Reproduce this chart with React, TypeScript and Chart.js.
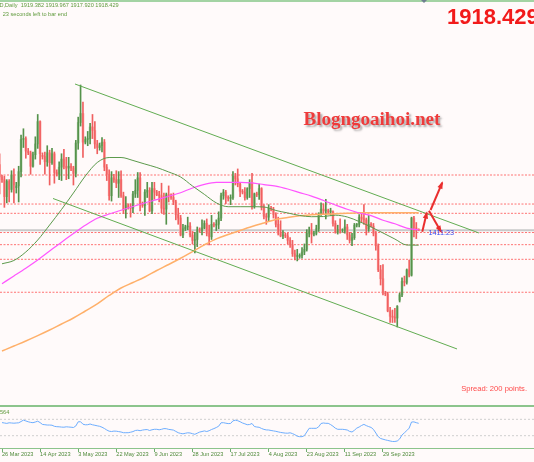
import React, { useEffect, useRef } from "react";
import { Chart, registerables } from "chart.js";

Chart.register(...registerables);

// ---------------- data ----------------
// daily bars, bar index -1 .. 175 (bar 0 = 26 Mar 2023, Sunday bars included)
const firstBarIndex = -1;
const opens = [1992,1978,1975,1956,1973,1964,1980,1966,1968,1984,2020,2021,2007,2005,1990,2003,2015,2040,2002,2001,1995,2005,1994,2004,1983,1981,1989,1998,1990,1988,1990,1988,1982,2016,2039,2049,2017,2020,2021,2034,2030,2015,2011,2013,2017,1989,1981,1957,1977,1975,1971,1975,1957,1941,1946,1944,1943,1959,1963,1977,1948,1946,1961,1963,1940,1965,1961,1958,1957,1943,1942,1958,1957,1955,1950,1936,1932,1913,1920,1922,1923,1913,1907,1908,1919,1918,1921,1926,1915,1911,1925,1924,1925,1932,1957,1961,1955,1954,1955,1979,1976,1970,1962,1961,1955,1965,1972,1945,1959,1958,1965,1944,1934,1933,1943,1942,1936,1925,1915,1912,1913,1912,1907,1902,1892,1889,1889,1890,1894,1897,1915,1917,1914,1915,1920,1937,1942,1940,1940,1939,1939,1926,1916,1919,1918,1919,1922,1913,1907,1910,1924,1925,1933,1931,1930,1920,1925,1923,1915,1901,1874,1864,1848,1847,1828,1822,1821,1820,1840,1846,1861,1860,1874,1868,1932,1921,1919.382];
const highs = [2004,1980,1979,1975,1975,1985,1987,1972,1990,2025,2032,2023,2010,2007,2006,2023,2048,2041,2005,2006,2013,2008,2010,2006,1986,1995,2004,2009,2000,2000,1993,1990,2019,2045,2081,2062,2023,2029,2038,2048,2040,2019,2016,2022,2020,1992,1986,1984,1981,1985,1984,1985,1961,1956,1948,1948,1962,1975,1983,1983,1950,1964,1972,1966,1972,1972,1963,1962,1971,1960,1960,1968,1959,1960,1952,1943,1935,1925,1924,1933,1927,1917,1916,1922,1921,1930,1929,1931,1924,1935,1927,1930,1939,1960,1964,1963,1957,1958,1984,1982,1987,1971,1964,1966,1966,1975,1982,1960,1961,1970,1966,1947,1937,1947,1945,1944,1938,1933,1929,1918,1915,1915,1910,1907,1896,1897,1892,1899,1903,1919,1922,1926,1917,1924,1938,1949,1948,1953,1942,1943,1940,1929,1924,1931,1920,1930,1925,1916,1915,1926,1926,1936,1937,1947,1932,1935,1927,1926,1917,1903,1879,1880,1850,1849,1832,1829,1831,1834,1848,1865,1867,1875,1885,1933,1934,1927,1919.967];
const lows = [1959,1972,1944,1949,1950,1961,1949,1960,1950,1978,2011,1999,2003,1981,1989,1998,2010,1992,1998,1981,1990,1969,1992,1971,1979,1975,1974,1987,1975,1976,1985,1969,1978,2009,2035,2000,2015,2013,2015,2021,2010,2004,2008,2006,1985,1974,1952,1951,1972,1966,1955,1955,1937,1932,1942,1933,1938,1955,1955,1940,1944,1935,1955,1939,1937,1953,1957,1950,1938,1936,1925,1950,1953,1947,1930,1925,1912,1910,1918,1919,1911,1903,1893,1900,1916,1913,1920,1912,1902,1908,1922,1918,1920,1929,1953,1948,1951,1947,1953,1969,1967,1956,1959,1952,1953,1955,1942,1943,1956,1953,1941,1931,1925,1928,1940,1932,1922,1913,1911,1909,1910,1903,1899,1889,1885,1884,1887,1887,1891,1895,1911,1904,1912,1913,1917,1935,1936,1931,1937,1935,1923,1915,1914,1915,1916,1915,1908,1904,1901,1908,1922,1922,1927,1925,1913,1917,1922,1912,1896,1872,1857,1846,1845,1827,1815,1815,1815,1810,1838,1844,1856,1858,1866,1867,1911,1909,1917.92];
const closes = [1978,1975,1956,1973,1964,1980,1969,1968,1984,2020,2021,2007,2005,1990,2003,2015,2040,2004,2001,1995,2005,1994,2004,1983,1981,1989,1998,1990,1988,1990,1988,1982,2016,2039,2049,2017,2020,2021,2034,2030,2015,2011,2013,2017,1989,1981,1957,1977,1975,1971,1975,1957,1941,1946,1944,1943,1959,1963,1977,1948,1946,1961,1963,1940,1965,1961,1958,1957,1943,1942,1958,1957,1955,1950,1936,1932,1913,1920,1922,1923,1913,1907,1908,1919,1918,1921,1926,1915,1911,1925,1924,1925,1932,1957,1961,1955,1954,1955,1979,1976,1970,1962,1961,1955,1965,1972,1945,1959,1958,1965,1944,1934,1933,1943,1942,1936,1925,1915,1912,1913,1912,1907,1902,1892,1889,1889,1890,1894,1897,1915,1917,1914,1915,1920,1937,1942,1940,1940,1939,1939,1926,1916,1919,1918,1919,1922,1913,1907,1910,1924,1925,1933,1931,1930,1920,1925,1923,1915,1901,1874,1864,1848,1847,1828,1822,1821,1820,1833,1846,1861,1860,1874,1868,1932,1921,1919.4,1918.429];

// moving averages sampled every 5 bars (bar 0, 5, 10 ... 175)
const maStep = 5;
const maGreen = [1880.8,1884.5,1894,1907.4,1924.2,1941.6,1960.1,1979.1,1994.2,1999.8,1999.8,1996.5,1992.5,1988.6,1983.6,1978,1967.9,1958.5,1949,1944.7,1944.7,1944.7,1944.4,1940.5,1937.7,1934.9,1933.5,1933.7,1935.2,1933.2,1928.1,1922,1915.3,1908.5,1901.8,1901.6];
const maMagenta = [1858.5,1867.1,1875.8,1885,1895,1905,1914.6,1923.9,1931.8,1936.5,1940.7,1944.9,1948.9,1952.6,1956.4,1960.3,1965.7,1969.8,1972,1972,1972,1971.3,1969.5,1967.7,1964.5,1960.5,1956.5,1951.7,1946.6,1941.8,1937.7,1934.7,1929.6,1925.6,1920.8,1918.7];
const maOrange = [1783.1,1788.7,1794.3,1800.3,1806.6,1813.4,1820.1,1827.9,1835.8,1845.3,1853.7,1859.8,1866,1873.3,1880,1887,1894.5,1902,1908.7,1913.5,1918.1,1922.5,1926.5,1930.4,1932.6,1934.6,1935.6,1936.3,1936.8,1937.3,1937.8,1938,1938,1938,1938,1938];

// horizontal support / resistance levels
const levelPrices = [1980.2, 1947.7, 1937.3, 1915.8, 1902.2, 1885.8, 1848.9];
const bidPrice = 1918.429;

// trend channel (bar index, price)
const upperTrendBars = [30.66, 200.3];
const upperTrendPrices = [2082.1, 1915.3];
const lowerTrendBars = [21.42, 191.1];
const lowerTrendPrices = [1953.9, 1785.4];

// red arrows
const arrowFromBars = [176.5, 180.0, 179.3];
const arrowFromPrices = [1916.7, 1941.0, 1940.2];
const arrowToBars = [178.4, 184.9, 184.4];
const arrowToPrices = [1938.0, 1971.6, 1916.7];

// oscillator (bar 0 .. 175)
const oscValues = [62,61,60,61.5,61,60.5,61,61.5,64.5,68,66,64,62.5,61.7,63.4,65.4,62,57.5,56.8,56,56,55.6,52.9,52,51.7,51,50.7,51.7,51.2,50.7,50,53.7,63.9,64.1,58,56.6,56.8,58.5,56.6,55.4,54.1,52.9,50.7,47.6,43.9,41,40.2,41.2,41,40,39,37.3,37.3,37.3,38.5,40,42.7,43.4,42.2,43.7,44.6,44.9,42.7,44.4,45.6,45.6,44.4,45.6,47.3,47.1,45.4,44.6,43.7,40.5,37.3,35.6,34.6,35.9,37.1,36.6,34.9,33.4,36.1,38.8,40.2,41.7,40.2,42.2,45.1,47.3,50,53.2,61.5,61.7,60.5,59.5,59.8,66.3,67.8,66.6,64.1,61,59,56.8,57.3,59.8,52.4,51.2,50.5,47.6,45.4,44.1,43.9,42.7,41.7,40.7,39.3,38,37.1,36.3,36.1,37.1,35.1,32.4,28.8,27.6,27.6,30.2,39,48,48,48,48,51.7,59.8,61,60.2,60.2,57.1,53.2,48.3,45.6,45.6,45.6,44.9,43.9,40.5,39,43.2,48.5,51.2,54.9,57.6,54.6,52.2,50.2,45.4,36.6,27.8,23.2,21.5,19.8,18.5,17.1,15.9,15.9,17.1,22,31.7,37.1,42.4,48.5,63.4,63.7,61.7,60.2];
const oscLevels = [70, 30];

// time axis labels
const dateLabels = ["26 Mar 2023","14 Apr 2023","3 May 2023","22 May 2023","9 Jun 2023","28 Jun 2023","17 Jul 2023","4 Aug 2023","23 Aug 2023","11 Sep 2023","29 Sep 2023"];
const dateLabelBars = [0,16,32,48,64,80,96,112,128,144,160];

// texts
const symbolText = "XAUUSD,Daily";
const ohlcText = "1919.382 1919.967 1917.920 1918.429";
const timerText = "23 seconds left to bar end";
const bigPriceText = "1918.429";
const watermarkText = "Blogngoaihoi.net";
const countdownText = "1411:23";
const spreadText = "Spread: 200 points.";
const oscLabelText = "564";

// ---------------- view settings ----------------
const X_MIN = -0.84;
const X_MAX = 223.43;
const Y_MIN = 1722.65;
const Y_MAX = 2176.18;
const BG = "#fffafa";
const TXT_GREEN = "#5f9a3c";
const FONT = "'Liberation Sans', Arial, sans-serif";

const mainDecor = {
  id: "mainDecor",
  beforeDraw(chart: any) {
    const { ctx, width, height } = chart;
    ctx.save();
    ctx.fillStyle = BG;
    ctx.fillRect(0, 0, width, height);
    ctx.restore();
  },
  afterDatasetsDraw(chart: any) {
    const { ctx, width } = chart;
    const xs = chart.scales.x;
    const ys = chart.scales.y;
    ctx.save();
    // arrowheads
    ctx.fillStyle = "#ea2e2e";
    for (let i = 0; i < arrowFromBars.length; i++) {
      const x1 = xs.getPixelForValue(arrowFromBars[i]);
      const y1 = ys.getPixelForValue(arrowFromPrices[i]);
      const x2 = xs.getPixelForValue(arrowToBars[i]);
      const y2 = ys.getPixelForValue(arrowToPrices[i]);
      const a = Math.atan2(y2 - y1, x2 - x1);
      const L = 6.5, W = 0.42;
      ctx.beginPath();
      ctx.moveTo(x2 + Math.cos(a) * 1.5, y2 + Math.sin(a) * 1.5);
      ctx.lineTo(x2 - L * Math.cos(a - W), y2 - L * Math.sin(a - W));
      ctx.lineTo(x2 - L * Math.cos(a + W), y2 - L * Math.sin(a + W));
      ctx.closePath();
      ctx.fill();
    }
    // top border
    ctx.fillStyle = "#a3d3a3";
    ctx.fillRect(0, 0, width, 2);
    ctx.fillStyle = "#6f7f8f";
    ctx.beginPath();
    ctx.moveTo(421, 0);
    ctx.lineTo(427, 0);
    ctx.lineTo(424, 3);
    ctx.closePath();
    ctx.fill();

    // header texts
    ctx.font = `5.6px ${FONT}`;
    ctx.fillStyle = TXT_GREEN;
    ctx.textBaseline = "middle";
    ctx.textAlign = "right";
    ctx.fillText(symbolText, 17.5, 5.8);
    ctx.textAlign = "left";
    ctx.fillText(ohlcText, 20.7, 5.8);
    ctx.fillText(timerText, 2.7, 14);

    // big price
    ctx.font = `bold 22px ${FONT}`;
    ctx.fillStyle = "#f21a1a";
    ctx.textBaseline = "alphabetic";
    ctx.fillText(bigPriceText, 447, 24);

    // watermark
    let wf = 19;
    ctx.font = `bold ${wf}px 'Liberation Serif', 'Times New Roman', serif`;
    const mw = ctx.measureText(watermarkText).width;
    wf = (wf * 137) / mw;
    ctx.font = `bold ${wf}px 'Liberation Serif', 'Times New Roman', serif`;
    ctx.shadowColor = "rgba(70,70,70,0.45)";
    ctx.shadowOffsetX = 2;
    ctx.shadowOffsetY = 2;
    ctx.shadowBlur = 2;
    ctx.fillStyle = "#ee3b3b";
    ctx.fillText(watermarkText, 303.5, 125);
    ctx.shadowColor = "transparent";
    ctx.shadowBlur = 0;
    ctx.shadowOffsetX = 0;
    ctx.shadowOffsetY = 0;

    // countdown
    ctx.font = `7.2px ${FONT}`;
    ctx.fillStyle = "#3b4cf0";
    ctx.textBaseline = "middle";
    ctx.fillText(countdownText, 428.5, 233.5);

    // spread
    ctx.font = `7.6px ${FONT}`;
    ctx.fillStyle = "#ff4a4a";
    ctx.textAlign = "right";
    ctx.fillText(spreadText, 527, 388.5);
    ctx.restore();
  },
};

const oscDecor = {
  id: "oscDecor",
  beforeDraw(chart: any) {
    const { ctx, width, height } = chart;
    ctx.save();
    ctx.fillStyle = BG;
    ctx.fillRect(0, 0, width, height);
    ctx.fillStyle = "#8cc48c";
    ctx.fillRect(0, 0, width, 2);
    ctx.restore();
  },
  afterDraw(chart: any) {
    const { ctx } = chart;
    ctx.save();
    ctx.font = `5.6px ${FONT}`;
    ctx.fillStyle = TXT_GREEN;
    ctx.textBaseline = "middle";
    ctx.textAlign = "left";
    ctx.fillText(oscLabelText, 0, 7);
    ctx.restore();
  },
};

export default function App() {
  const mainRef = useRef<HTMLCanvasElement | null>(null);
  const oscRef = useRef<HTMLCanvasElement | null>(null);

  useEffect(() => {
    document.body.style.margin = "0";
    const barIdx = opens.map((_, i) => i + firstBarIndex);
    const isUp = (i: number) => closes[i] >= opens[i];
    const wickData = barIdx.map((b, i) => ({ x: b, y: [lows[i], highs[i]] }));
    const bodyData = barIdx.map((b, i) => ({
      x: b,
      y: [Math.min(opens[i], closes[i]), Math.max(opens[i], closes[i])],
    }));
    const maData = (arr: number[]) => arr.map((v, i) => ({ x: i * maStep, y: v }));
    const line = (data: any[], color: string, width: number, order: number, extra: any = {}) => ({
      type: "line",
      data,
      borderColor: color,
      borderWidth: width,
      pointRadius: 0,
      fill: false,
      order,
      ...extra,
    });

    const datasets: any[] = [];
    levelPrices.forEach((p) => {
      datasets.push(
        line([{ x: X_MIN, y: p }, { x: X_MAX, y: p }], "#ff7272", 1, 30, { borderDash: [2, 1.5] })
      );
    });
    datasets.push(line([{ x: X_MIN, y: bidPrice }, { x: X_MAX, y: bidPrice }], "#c9c9c9", 2, 25));
    datasets.push({
      type: "bar",
      data: bodyData,
      backgroundColor: (c: any) => (isUp(c.dataIndex) ? "#a9cda1" : "#ffaaaa"),
      barThickness: 2,
      minBarLength: 1,
      grouped: false,
      borderWidth: 0,
      order: 20,
    });
    datasets.push({
      type: "bar",
      data: wickData,
      backgroundColor: (c: any) => (isUp(c.dataIndex) ? "#55924b" : "#f06060"),
      barThickness: 1,
      grouped: false,
      borderWidth: 0,
      order: 19,
    });
    datasets.push(line(maData(maOrange), "#ffb06a", 1.5, 10, { cubicInterpolationMode: "monotone" }));
    datasets.push(line(maData(maMagenta), "#ff55ff", 1.2, 9, { cubicInterpolationMode: "monotone" }));
    datasets.push(line(maData(maGreen), "#5c9a4c", 1, 8, { cubicInterpolationMode: "monotone" }));
    datasets.push(
      line(upperTrendBars.map((b, i) => ({ x: b, y: upperTrendPrices[i] })), "#62ad52", 1, 5)
    );
    datasets.push(
      line(lowerTrendBars.map((b, i) => ({ x: b, y: lowerTrendPrices[i] })), "#62ad52", 1, 5)
    );
    arrowFromBars.forEach((b, i) => {
      datasets.push(
        line(
          [
            { x: b, y: arrowFromPrices[i] },
            { x: arrowToBars[i], y: arrowToPrices[i] },
          ],
          "#ea2e2e",
          2,
          1
        )
      );
    });

    const main = new Chart(mainRef.current as HTMLCanvasElement, {
      type: "bar",
      data: { datasets },
      options: {
        responsive: false,
        animation: false,
        devicePixelRatio: 1,
        events: [],
        layout: { padding: 0 },
        plugins: { legend: { display: false }, tooltip: { enabled: false } },
        scales: {
          x: { type: "linear", min: X_MIN, max: X_MAX, display: false, offset: false, grid: { display: false } },
          y: { type: "linear", min: Y_MIN, max: Y_MAX, display: false },
        },
      } as any,
      plugins: [mainDecor],
    } as any);

    const oscDatasets: any[] = [];
    oscLevels.forEach((lv) => {
      oscDatasets.push({
        data: [{ x: X_MIN, y: lv }, { x: X_MAX, y: lv }],
        borderColor: "#cfcfcf",
        borderWidth: 1,
        borderDash: [2, 2],
        pointRadius: 0,
        order: 5,
      });
    });
    oscDatasets.push({
      data: oscValues.map((v, i) => ({ x: i, y: v })),
      borderColor: "#6eaeff",
      borderWidth: 1,
      pointRadius: 0,
      order: 1,
    });

    const osc = new Chart(oscRef.current as HTMLCanvasElement, {
      type: "line",
      data: { datasets: oscDatasets },
      options: {
        responsive: false,
        animation: false,
        devicePixelRatio: 1,
        events: [],
        layout: { padding: { top: 2, left: 0, right: 0, bottom: 0 } },
        plugins: { legend: { display: false }, tooltip: { enabled: false } },
        scales: {
          x: {
            type: "linear",
            min: X_MIN,
            max: X_MAX,
            offset: false,
            afterBuildTicks: (s: any) => {
              s.ticks = dateLabelBars.map((v) => ({ value: v }));
            },
            afterFit: (s: any) => {
              s.height = 14;
            },
            ticks: {
              align: "start",
              autoSkip: false,
              maxRotation: 0,
              minRotation: 0,
              padding: -1,
              color: "#4f8a3a",
              font: { size: 5.6, family: FONT },
              callback: (_v: any, idx: number) => dateLabels[idx] ?? "",
            },
            grid: { drawOnChartArea: false, drawTicks: true, tickLength: 4, color: "#6fae6f" },
            border: { display: true, color: "#8cc48c", width: 1 },
          },
          y: { type: "linear", min: 0, max: 100, display: false },
        },
      } as any,
      plugins: [oscDecor],
    } as any);

    return () => {
      main.destroy();
      osc.destroy();
    };
  }, []);

  return (
    <div style={{ width: 534, height: 462, overflow: "hidden", background: BG }}>
      <canvas ref={mainRef} width={534} height={405} style={{ display: "block" }} />
      <canvas ref={oscRef} width={534} height={57} style={{ display: "block" }} />
    </div>
  );
}
